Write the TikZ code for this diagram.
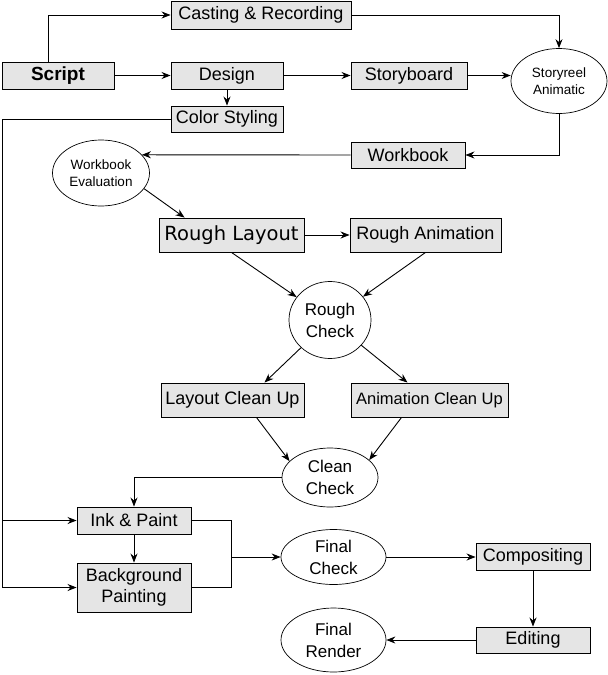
\documentclass[tikz,border=0pt]{standalone}
\usepackage{fontspec}
\setmainfont{Liberation Sans}
\newfontfamily\heavyfont{DejaVu Sans}
\definecolor{boxgray}{gray}{0.9}
\usetikzlibrary{arrows.meta,calc,positioning,shapes.geometric}

\begin{document}
\begin{tikzpicture}[
  x=1pt,
  y=-1pt,
  >={Stealth[length=9pt,width=7pt]},
  flow/.style={->,line width=0.9pt,black},
  joinline/.style={line width=0.9pt,black},
  procbox/.style={
    draw,
    line width=0.9pt,
    fill=boxgray,
    inner sep=0pt,
    align=center,
    font=\fontsize{18}{21}\selectfont
  },
  checkoval/.style={
    draw,
    ellipse,
    line width=0.7pt,
    inner sep=0pt,
    align=center,
    font=\fontsize{17}{22}\selectfont
  },
  smalloval/.style={checkoval,font=\fontsize{13.5}{17}\selectfont}
]
\useasboundingbox (0,0) rectangle (608,675);

% Top row
\node[procbox,font=\bfseries\fontsize{19}{22}\selectfont,
  minimum width=112pt,minimum height=27pt] (Script) at (58,75.5) {Script};
\node[procbox,minimum width=180pt,minimum height=28pt] (Casting) at (261,15)
  {Casting \& Recording};
\node[procbox,minimum width=112pt,minimum height=27pt] (Design) at (227,75.5) {Design};
\node[procbox,minimum width=116pt,minimum height=27pt] (Storyboard) at (409,75.5)
  {Storyboard};
\node[smalloval,minimum width=96pt,minimum height=65pt] (Storyreel) at (559,81)
  {Storyreel\\Animatic};
\node[procbox,minimum width=112pt,minimum height=26pt] (ColorStyling) at (227,119)
  {Color Styling};
\node[procbox,minimum width=114pt,minimum height=26pt] (Workbook) at (408,155)
  {Workbook};
\node[smalloval,minimum width=97pt,minimum height=66pt] (WbEval) at (101,173)
  {Workbook\\Evaluation};

% Rough stage
\node[procbox,font=\heavyfont\fontsize{19.5}{22}\selectfont,
  minimum width=145pt,minimum height=34pt] (RoughLayout) at (231.5,235) {Rough Layout};
\node[procbox,minimum width=151pt,minimum height=34pt] (RoughAnim) at (425.5,235)
  {Rough Animation};
\node[checkoval,minimum width=82pt,minimum height=77pt] (RoughCheck) at (330,320)
  {Rough\\Check};

% Clean up stage
\node[procbox,minimum width=143pt,minimum height=34pt] (LayoutClean) at (232.5,400)
  {Layout Clean Up};
\node[procbox,font=\fontsize{16.5}{20}\selectfont,
  minimum width=157pt,minimum height=34pt] (AnimClean) at (429.5,400)
  {Animation Clean Up};
\node[checkoval,minimum width=96pt,minimum height=59pt] (CleanCheck) at (330,477.5)
  {Clean\\Check};

% Final stage
\node[procbox,minimum width=114pt,minimum height=27pt] (InkPaint) at (134,520.5)
  {Ink \& Paint};
\node[procbox,minimum width=114pt,minimum height=49pt] (BgPaint) at (134,587.5)
  {Background\\Painting};
\node[checkoval,minimum width=105pt,minimum height=55pt] (FinalCheck) at (333.5,557)
  {Final\\Check};
\node[procbox,minimum width=114pt,minimum height=27pt] (Compositing) at (533,557)
  {Compositing};
\node[procbox,minimum width=114pt,minimum height=26pt] (Editing) at (533,640)
  {Editing};
\node[checkoval,minimum width=105pt,minimum height=64pt] (FinalRender) at (333.5,640)
  {Final\\Render};

% Helper points
\coordinate (Rail) at (2,300);
\coordinate (Merge) at (231,0);

% Pre-production
\draw[flow] ([xshift=-10pt]Script.north) |- (Casting.west);
\draw[flow] (Script.east) -- (Design.west);
\draw[flow] (Design.east) -- (Storyboard.west);
\draw[flow] (Storyboard.east) -- (Storyboard.east -| Storyreel.west);
\draw[flow] (Casting.east) -| (Storyreel.north);
\draw[flow] (Design.south) -- (ColorStyling.north);
\draw[flow] (Storyreel.south) |- (Workbook.east);
\draw[flow] (Workbook.west) -- (WbEval.24);
\draw[flow] (WbEval.-20) -- ([xshift=26pt]RoughLayout.north west);

% Rough stage
\draw[flow] (RoughLayout.east) -- (RoughAnim.west);
\draw[flow] (RoughLayout.south) -- (RoughCheck);
\draw[flow] (RoughAnim.south) -- (RoughCheck);
\draw[flow] (RoughCheck) -- ([xshift=32pt]LayoutClean.north);
\draw[flow] (RoughCheck) -- ([xshift=-22pt]AnimClean.north);

% Clean up stage
\draw[flow] ([xshift=24pt]LayoutClean.south) -- (CleanCheck.158);
\draw[flow] ([xshift=-28pt]AnimClean.south) -- (CleanCheck.24);
\draw[flow] (CleanCheck.west) -| (InkPaint.north);

% Color styling feeds ink and background
\draw[flow] (ColorStyling.west) -- (ColorStyling.west -| Rail) |- (BgPaint.west);
\draw[flow] (InkPaint.west -| Rail) -- (InkPaint.west);
\draw[flow] (InkPaint.south) -- (BgPaint.north);

% Final stage
\draw[joinline] (InkPaint.east) -| (Merge |- BgPaint.east) -- (BgPaint.east);
\draw[flow] (Merge |- FinalCheck.west) -- (FinalCheck.west);
\draw[flow] (FinalCheck.east) -- (Compositing.west);
\draw[flow] (Compositing.south) -- (Editing.north);
\draw[flow] (Editing.west) -- (FinalRender.east);
\end{tikzpicture}
\end{document}
